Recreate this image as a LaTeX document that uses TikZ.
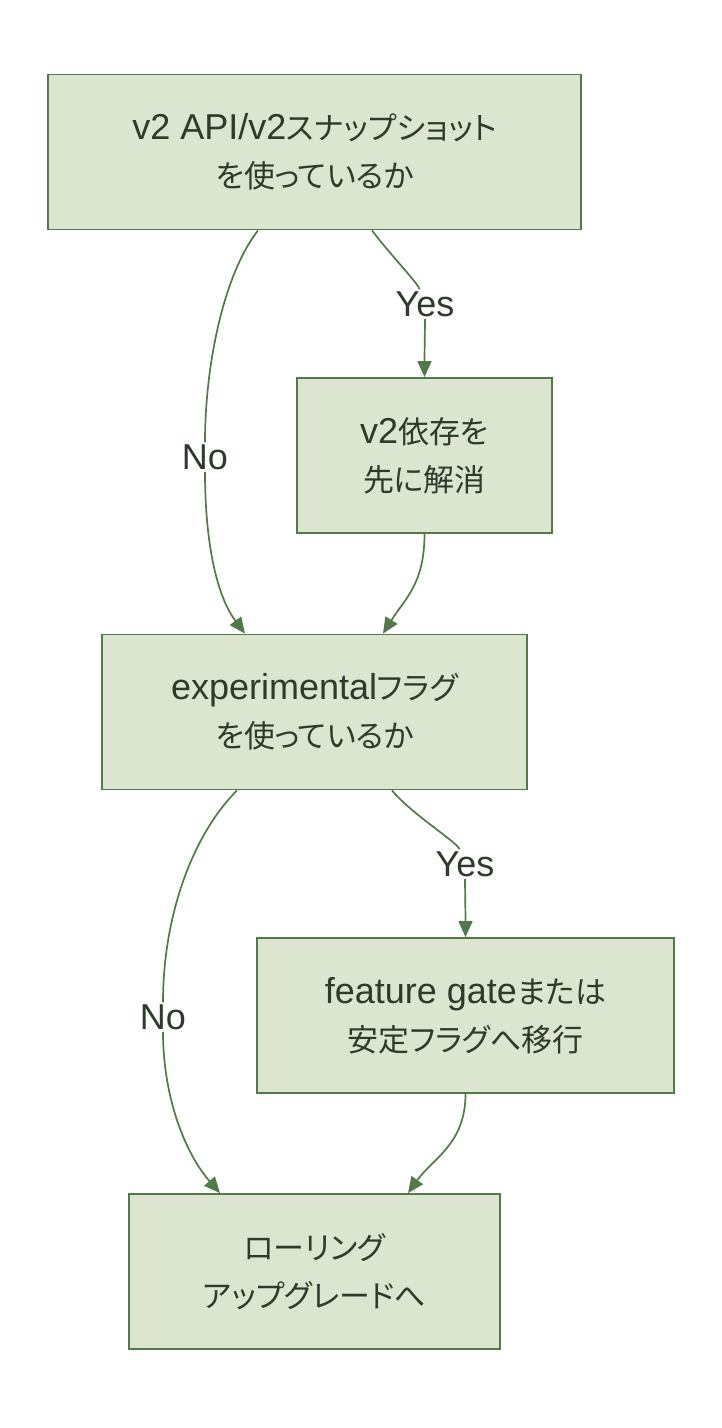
\documentclass[tikz,border=0pt]{standalone}
\usepackage{fontspec}
\setmainfont{Liberation Sans}
\newfontfamily\cjk[Scale=0.86,RawFeature=+palt]{Noto Sans CJK JP}
\usetikzlibrary{arrows.meta,calc}
\definecolor{boxfill}{HTML}{DCE5D0}
\definecolor{boxline}{HTML}{55784A}
\definecolor{inkdark}{HTML}{2E3A2B}
\tikzset{
  stepbox/.style={draw=boxline,fill=boxfill,line width=1.8pt,text=inkdark,
    align=center,minimum height=155pt,inner sep=0pt,
    font=\fontsize{36}{48}\selectfont},
  edge/.style={draw=boxline,line width=1.7pt,-{Triangle[length=16pt,width=14pt]}},
  lbl/.style={fill=white,text=inkdark,font=\fontsize{36}{40}\selectfont,inner sep=2pt}
}
\begin{document}
\begin{tikzpicture}[x=1pt,y=-1pt]
\useasboundingbox (0,0) rectangle (722,1428);

\node[stepbox,minimum width=533pt] (q1) at (314.5,152) {v2 API/v2{\cjk スナップショット}\\{\cjk を使っているか}};
\node[stepbox,minimum width=255pt] (fix1) at (424.5,455.5) {v2{\cjk 依存を}\\{\cjk 先に解消}};
\node[stepbox,minimum width=425pt] (q2) at (314.5,712) {experimental{\cjk フラグ}\\{\cjk を使っているか}};
\node[stepbox,minimum width=417pt] (fix2) at (465.5,1015.5) {feature gate{\cjk または}\\{\cjk 安定フラグへ移行}};
\node[stepbox,minimum width=371pt] (done) at (314.5,1271.5) {{\cjk ローリング}\\{\cjk アップグレードへ}};

\node[lbl] (no1) at (205,457) {No};
\node[lbl] (yes1) at (425,304) {Yes};
\node[lbl] (no2) at (163,1017) {No};
\node[lbl] (yes2) at (465,864) {Yes};

% first question
\draw[edge] ($(q1.south)+(-56.5,0)$) .. controls +(-35,45) and +(0,-90) .. (no1)
  .. controls +(0,80) and +(-30,-40) .. ($(q2.north)+(-69.5,0)$);
\draw[edge] ($(q1.south)+(57.5,0)$) .. controls +(18,24) and +(-8,-22) .. (yes1)
  .. controls +(0,20) and +(0,-20) .. (fix1.north);
\draw[edge] (fix1.south) .. controls +(0,50) and +(22,-35) .. ($(q2.north)+(68.5,0)$);

% second question
\draw[edge] ($(q2.south)+(-77.5,0)$) .. controls +(-45,45) and +(0,-100) .. (no2)
  .. controls +(0,80) and +(-35,-40) .. ($(done.north)+(-94.5,0)$);
\draw[edge] ($(q2.south)+(77.5,0)$) .. controls +(20,24) and +(-8,-22) .. (yes2)
  .. controls +(0,20) and +(0,-20) .. (fix2.north);
\draw[edge] (fix2.south) .. controls +(0,50) and +(25,-35) .. ($(done.north)+(93.5,0)$);
\end{tikzpicture}
\end{document}
